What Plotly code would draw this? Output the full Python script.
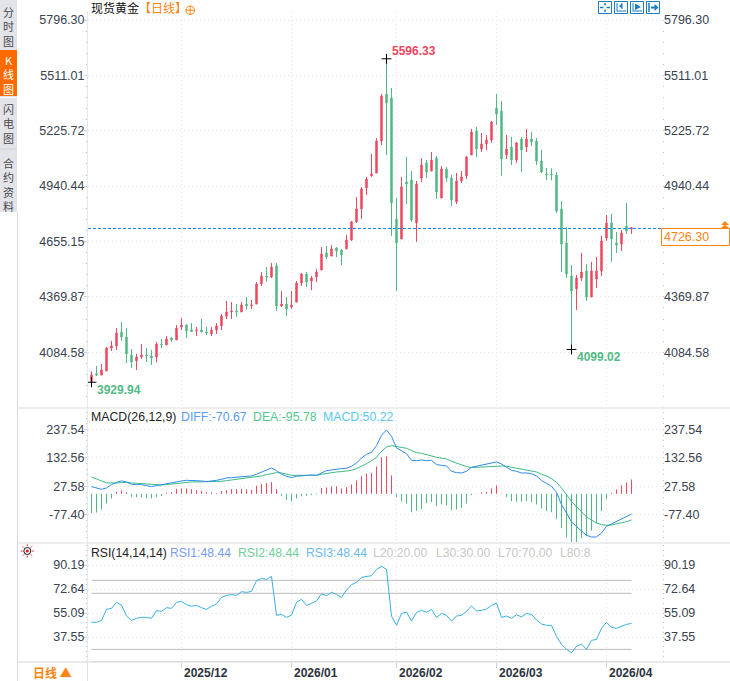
import plotly.graph_objects as go

W = 730
H = 681

OPEN = [3932,3974,3967,3988,4106,4117,4189,4163,4070,4040,
        4060,4070,4065,4060,4127,4122,4158,4148,4215,4225,
        4199,4196,4199,4189,4179,4199,4220,4271,4292,4297,
        4292,4333,4325,4333,4436,4477,4472,4529,4323,4333,
        4318,4343,4441,4488,4452,4472,4508,4596,4580,4622,
        4611,4617,4663,4756,4823,4931,4993,5008,5173,5415,
        5395,4771,4668,4962,4972,4751,4982,5060,5018,5085,
        4879,5029,4982,4859,4967,4993,5101,5225,5132,5158,
        5178,5343,5328,5101,5142,5075,5183,5142,5183,5173,
        5070,5003,5003,4998,4823,4648,4477,4411,4467,4503,
        4369,4462,4503,4673,4751,4648,4642,4735,4720]
HIGH = [3986,4014,4024,4112,4143,4209,4240,4209,4101,4076,
        4127,4106,4096,4137,4153,4168,4163,4225,4261,4230,
        4235,4215,4256,4215,4215,4235,4282,4349,4343,4333,
        4343,4369,4354,4447,4498,4524,4544,4544,4400,4369,
        4400,4452,4493,4498,4477,4514,4627,4632,4637,4627,
        4617,4689,4761,4885,4936,4988,5106,5188,5415,5596.33,
        5446,4879,4988,5091,5018,4967,5085,5075,5116,5096,
        5044,5039,4998,5008,5018,5096,5235,5245,5214,5204,
        5276,5415,5379,5204,5194,5168,5194,5235,5219,5188,
        5127,5034,5032,5013,4864,4730,4534,4483,4596,4539,
        4550,4575,4684,4792,4797,4704,4714,4854,4730]
LOW = [3929.94,3962,3967,3988,4091,4096,4143,4029,4003,3993,
       4050,4034,4019,4034,4106,4122,4137,4148,4199,4158,
       4189,4168,4189,4173,4168,4179,4199,4256,4256,4266,
       4292,4304,4307,4333,4426,4448,4467,4297,4318,4271,
       4307,4343,4426,4421,4405,4447,4508,4565,4580,4575,
       4534,4617,4658,4751,4771,4895,4988,5008,5152,5101,
       4684,4400,4668,4848,4756,4653,4962,4982,5018,4874,
       4879,4962,4838,4848,4957,4977,5101,5091,5116,5127,
       5163,5255,4993,5080,5049,5060,5013,5116,5147,5049,
       5008,4972,4970,4802,4498,4467,4099.02,4302,4452,4349,
       4369,4416,4477,4658,4550,4596,4606,4694,4694]
CLOSE = [3967,3967,3993,4106,4117,4184,4163,4076,4034,4060,
         4070,4065,4055,4127,4124,4153,4148,4209,4225,4194,
         4192,4199,4189,4184,4199,4220,4271,4292,4297,4292,
         4328,4323,4328,4436,4477,4472,4524,4323,4333,4307,
         4328,4441,4488,4447,4467,4498,4591,4575,4617,4606,
         4586,4663,4756,4823,4926,4977,5003,5173,5405,5369,
         4854,4648,4936,4951,4766,4951,5049,5013,5075,4910,
         5029,4982,4869,4967,4988,5091,5219,5132,5158,5178,
         5271,5312,5080,5132,5075,5163,5127,5183,5168,5070,
         5013,4998,4999,4812,4642,4488,4400,4467,4498,4369,
         4503,4503,4658,4751,4668,4637,4699,4709,4726.30]

MACD_DIFF = [26.5,21.6,16.7,21.6,33.9,42.5,47.5,43.8,35.2,33.9,
             33.9,30.2,26.5,30.2,33.9,36.4,40.1,46.2,47.5,49.9,
             49.9,48.7,47.5,45.0,46.2,49.9,53.6,58.6,59.8,61.0,
             63.5,63.5,66.0,72.1,80.7,88.1,95.5,85.7,73.3,64.7,
             59.8,64.7,67.2,68.4,69.6,68.4,77.0,85.7,88.1,91.8,
             93.1,94.3,101.7,114.0,132.5,146.0,153.4,178.1,216.3,236.0,
             212.6,169.4,159.6,148.5,123.9,122.6,125.1,122.6,123.9,107.8,
             105.4,102.9,83.2,78.3,77.0,83.2,98.0,101.7,104.1,110.3,
             112.8,117.7,110.3,99.2,86.9,83.2,77.0,77.0,74.6,65.9,
             48.7,38.8,27.8,5.6,-40.0,-70.8,-104.1,-121.3,-138.6,-153.4,
             -159.5,-159.5,-144.7,-120.1,-111.5,-101.6,-91.7,-81.9,-74.5]
MACD_DEA = [62.3,53.6,47.5,40.1,38.8,40.1,41.3,42.5,40.1,38.8,
            38.8,36.4,35.2,32.7,32.7,33.9,36.4,38.8,41.3,43.8,
            43.8,43.8,43.8,43.8,43.8,45.0,46.2,48.7,51.2,53.6,
            54.9,56.1,58.6,61.0,66.0,70.9,74.6,78.3,77.0,73.3,
            68.4,68.4,68.4,68.4,68.4,68.4,72.1,75.8,78.3,80.7,
            82.0,83.2,86.9,93.1,101.7,111.5,122.6,134.9,157.1,173.2,
            178.1,175.6,173.2,168.2,159.6,152.2,149.7,143.6,139.9,134.9,
            132.5,128.8,120.2,112.8,105.4,100.4,96.8,98.0,99.2,100.4,
            101.7,102.9,102.9,101.7,98.0,95.5,91.8,88.1,84.4,80.7,
            72.1,65.9,56.1,42.5,21.6,-3.0,-27.7,-47.4,-67.1,-85.6,
            -96.7,-107.8,-113.9,-116.4,-115.2,-111.5,-107.8,-102.8,-96.7]
MACD_HIST = [-71.5,-69.0,-57.9,-35.7,-17.2,7.4,12.3,6.2,-11.1,-12.3,
             -13.6,-16.0,-17.2,-12.3,-8.6,3.7,6.2,18.5,19.7,19.7,
             17.2,13.6,11.1,6.2,4.9,2.5,9.9,13.6,17.2,17.2,
             18.5,16.0,14.8,29.6,35.7,39.4,43.1,17.2,-7.4,-22.2,
             -28.3,-17.2,-8.6,-7.4,-4.9,-2.5,20.9,23.4,27.1,27.1,
             19.7,24.6,34.5,49.3,65.3,75.2,76.4,101.0,134.3,138.0,
             67.8,-12.3,-28.3,-35.7,-67.8,-62.8,-56.7,-34.5,-30.8,-45.6,
             -39.4,-43.1,-60.4,-57.9,-51.7,-35.7,-4.9,-1.2,4.9,7.4,
             19.7,30.8,1.2,-12.3,-27.1,-29.6,-29.6,-27.1,-30.8,-39.4,
             -54.2,-64.1,-67.8,-93.6,-125.7,-161.4,-178.6,-178.6,-163.9,-156.5,
             -135.5,-108.4,-64.1,-19.7,3.7,16.0,30.8,41.9,53.0]

RSI = [48.3,48.3,49.7,57.8,58.5,62.9,60.9,52.9,49.7,51.2,
       51.9,51.9,51.2,56.8,56.3,59.0,58.5,62.9,63.6,61.2,
       60.0,60.7,59.0,57.8,60.0,61.7,66.5,68.0,68.5,68.0,
       70.7,70.2,70.9,78.7,80.4,79.7,81.9,53.4,54.1,51.9,
       53.6,62.9,65.1,60.7,62.2,63.9,69.2,67.8,70.2,68.7,
       66.5,71.9,75.8,77.5,81.2,81.7,82.4,87.0,89.2,87.0,
       52.9,46.1,54.8,55.8,49.2,55.6,57.0,55.6,57.8,51.9,
       54.8,53.4,49.2,52.9,53.4,56.3,60.2,56.6,57.0,58.0,
       60.7,62.4,51.9,52.9,51.2,53.9,52.2,54.8,54.1,50.0,
       47.1,46.1,46.1,38.0,32.2,28.5,26.1,30.7,32.4,28.5,
       35.1,35.8,43.9,48.3,44.6,43.9,45.6,46.8,47.5]
RSI_LEVELS = [79.0, 69.5, 28.5, 19.5]

PRICE_TICKS = [5796.30, 5511.01, 5225.72, 4940.44, 4655.15, 4369.87, 4084.58]
# the last price box hides 4655.15 on the right hand side
PRICE_TICKS_RIGHT = [5796.30, 5511.01, 5225.72, 4940.44, 4369.87, 4084.58]
MACD_TICKS = [237.54, 132.56, 27.58, -77.40]
RSI_TICKS = [90.19, 72.64, 55.09, 37.55]
DATE_IDX = [18, 40, 61, 81, 103]
DATE_LABELS = ["2025/12", "2026/01", "2026/02", "2026/03", "2026/04"]
LAST_PRICE = 4726.30
LAST_LINE_LEVEL = 4722
EXTREMES = [(0, 3929.94, "3929.94", "#52bb85"),
            (59, 5596.33, "5596.33", "#f0455f"),
            (96, 4099.02, "4099.02", "#52bb85")]

RED = "#ef4860"
GREEN = "#50b883"
ORANGE = "#ff8410"
TEXT = "#3a4250"
GRID = "#e6e6e6"
AXIS = "#e2eaf1"
LATIN = "Liberation Sans"
CJK = "Noto Sans CJK SC"
idx = list(range(len(CLOSE)))


def px(x):
    return x / W


def py(y):
    return 1 - y / H


fig = go.Figure()

fig.add_trace(go.Candlestick(
    x=idx, open=OPEN, high=HIGH, low=LOW, close=CLOSE,
    increasing=dict(line=dict(color=RED, width=1), fillcolor=RED),
    decreasing=dict(line=dict(color=GREEN, width=1), fillcolor=GREEN),
    xaxis="x", yaxis="y", showlegend=False))

for i, value, _, _ in EXTREMES:
    fig.add_trace(go.Scatter(
        x=[i], y=[value], mode="markers", xaxis="x", yaxis="y", showlegend=False,
        marker=dict(symbol="cross-thin", size=7, line=dict(color="#000000", width=1))))

# histogram as 1px stems, one trace for each colour
for color, keep in [(RED, lambda v: v > 0), (GREEN, lambda v: v <= 0)]:
    stem_x, stem_y = [], []
    for i, v in zip(idx, MACD_HIST):
        if keep(v):
            stem_x += [i, i, None]
            stem_y += [0, v, None]
    fig.add_trace(go.Scatter(x=stem_x, y=stem_y, mode="lines", xaxis="x2", yaxis="y2", showlegend=False,
                             line=dict(color=color, width=1)))
fig.add_trace(go.Scatter(x=idx, y=MACD_DEA, mode="lines", xaxis="x2", yaxis="y2", showlegend=False,
                         line=dict(color="#3dbb80", width=1)))
fig.add_trace(go.Scatter(x=idx, y=MACD_DIFF, mode="lines", xaxis="x2", yaxis="y2", showlegend=False,
                         line=dict(color="#2d8cf0", width=1)))

for level in RSI_LEVELS:
    fig.add_trace(go.Scatter(x=[idx[0], idx[-1]], y=[level, level], mode="lines", xaxis="x3", yaxis="y3",
                             showlegend=False, line=dict(color="#bcbcbc", width=1)))
fig.add_trace(go.Scatter(x=idx, y=RSI, mode="lines", xaxis="x3", yaxis="y3", showlegend=False,
                         line=dict(color="#37b0e4", width=1)))

# empty traces so the right hand price axes get drawn
for axis_name in ["y4", "y5", "y6"]:
    fig.add_trace(go.Scatter(x=[None], y=[None], xaxis="x", yaxis=axis_name, showlegend=False))


def x_axis(anchor, **kw):
    return dict(domain=[px(88), px(662)], range=[-0.7, 114.1], anchor=anchor, tickmode="array",
                tickvals=DATE_IDX, showticklabels=False, showgrid=True, gridcolor=GRID, griddash="1px,3px",
                gridwidth=1, zeroline=False, showline=False, ticks="", **kw)


def y_axis(top, bottom, rng, tick_values, minor_step, **kw):
    return dict(domain=[py(bottom), py(top)], range=rng, tickmode="array", tickvals=tick_values,
                ticktext=["%.2f" % t for t in tick_values], tickfont=dict(family=LATIN, size=12.5, color=TEXT),
                zeroline=False, **kw,
                minor=dict(ticks="outside", ticklen=1, tickcolor="#b8c4ce", tick0=tick_values[0], dtick=minor_step,
                           showgrid=False))


def left_axis(top, bottom, rng, tick_values, minor_step):
    return y_axis(top, bottom, rng, tick_values, minor_step, anchor="x", side="left", showgrid=True, gridcolor=GRID,
                  griddash="1px,3px", showline=True, linecolor=AXIS, linewidth=1, ticks="outside", ticklen=3,
                  tickcolor="#c8d4de", ticklabelstandoff=-3)


def right_axis(top, bottom, rng, tick_values, minor_step, over):
    return y_axis(top, bottom, rng, tick_values, minor_step, overlaying=over, side="right", anchor="free",
                  position=px(662), showgrid=False, showline=False, ticks="", ticklabelstandoff=1)


main_range = [3797.3, 5837.5]
macd_range = [-181.8, 317.1]
rsi_range = [19.28, 106.3]

shapes = []
notes = []


def label(x, y, text, color=TEXT, size=12.5, family=LATIN, anchor="left"):
    # annotations sit about a pixel right of the given x
    shift = 1 if anchor == "left" else 0
    notes.append(dict(x=px(x - shift), y=py(y), xref="paper", yref="paper", text=text, showarrow=False,
                      xanchor=anchor, yanchor="middle", align="center", borderpad=0,
                      font=dict(family=family, size=size, color=color)))


def box(x0, y0, x1, y1, fill=None, line=None, width=1):
    shapes.append(dict(type="rect", xref="paper", yref="paper", layer="above", x0=px(x0), x1=px(x1),
                       y0=py(y0), y1=py(y1), fillcolor=fill or "rgba(0,0,0,0)",
                       line=dict(color=line or "rgba(0,0,0,0)", width=width if line else 0)))


def seg(x0, y0, x1, y1, color, width=1):
    shapes.append(dict(type="line", xref="paper", yref="paper", layer="above", x0=px(x0), x1=px(x1),
                       y0=py(y0), y1=py(y1), line=dict(color=color, width=width)))


def poly(points, color):
    path = "M " + " L ".join("%.4f,%.4f" % (px(a), py(b)) for a, b in points) + " Z"
    shapes.append(dict(type="path", xref="paper", yref="paper", layer="above", path=path, fillcolor=color,
                       line=dict(width=0)))


# sidebar
box(0, 0, 17, 212, fill="#e3e3ea")
box(0, 50, 17, 96, fill="#ff6a00")
seg(0, 97.5, 17, 97.5, "#f5f5f8")
seg(0, 149, 17, 149, "#cfd2da")
seg(17.5, 212, 17.5, 681, "#d9d9df")
label(8.5, 27, "分<br>时<br>图", color="#4a4a4a", size=11, family=CJK, anchor="center")
label(8.5, 75, "K<br>线<br>图", color="#ffffff", size=11, family=CJK, anchor="center")
label(8.5, 124, "闪<br>电<br>图", color="#4a4a4a", size=11, family=CJK, anchor="center")
label(8.5, 184, "合<br>约<br>资<br>料", color="#4a4a4a", size=11, family=CJK, anchor="center")

# panel separators
seg(18, 408, W, 408, "#e8e8e8", 1.5)
seg(18, 543, W, 543, "#e8e8e8", 1.5)
seg(18, 662, W, 662, "#e4e4e4", 1.5)
seg(87.5, 662, 87.5, 681, "#e4e4e4")
label(52, 672.5, "<b>日线 ▲</b>", color=ORANGE, size=12, family=CJK, anchor="center")

# title row
label(91, 8, "现货黄金", color="#111111", size=12, family=CJK)
label(139, 8, "【日线】", color=ORANGE, size=12, family=CJK)
shapes.append(dict(type="circle", xref="paper", yref="paper", layer="above", x0=px(186), x1=px(194.5),
                   y0=py(14.5), y1=py(6), line=dict(color=ORANGE, width=1)))
seg(186, 10.2, 194.5, 10.2, ORANGE)
seg(190.2, 6, 190.2, 14.5, ORANGE)

# toolbar icons
ICON = "#1a7cc4"
for x0 in [598.5, 614.5, 630.5, 646.5]:
    box(x0, 1.5, x0 + 13, 13.5, line=ICON)
seg(600, 7.5, 603.5, 7.5, ICON, 1.5)
seg(606.5, 7.5, 610, 7.5, ICON, 1.5)
seg(605, 3, 605, 5.5, ICON, 1.5)
seg(605, 9.5, 605, 12, ICON, 1.5)
seg(617, 3, 617, 11.5, ICON)
seg(617, 11, 626, 11, ICON)
seg(622, 3, 622, 9, ICON)
poly([(619, 6), (622, 3.5), (622, 8.5)], ICON)
seg(633, 3, 633, 11.5, ICON)
seg(633, 11, 642, 11, ICON)
poly([(635, 3.5), (641, 7), (635, 10)], ICON)
seg(649, 3, 649, 12, ICON, 1.5)
seg(651, 7.5, 655, 7.5, ICON, 2)
poly([(654.5, 4), (658.5, 7.5), (654.5, 11)], ICON)

# last price line and box
shapes.append(dict(type="line", xref="paper", yref="y", layer="above", x0=px(88), x1=px(661),
                   y0=LAST_LINE_LEVEL, y1=LAST_LINE_LEVEL, line=dict(color="#0a84ff", width=1, dash="3px,2px")))
box(661.5, 228.5, 729.5, 245.5, fill="#ffffff", line=ORANGE)
label(664, 237, "%.2f" % LAST_PRICE, color=ORANGE)
poly([(725, 221), (729, 225), (721, 225)], ORANGE)
poly([(725, 224.5), (729, 228), (721, 228)], ORANGE)

# indicator headers
label(90.5, 417, "MACD(26,12,9)", color="#222222", size=12.3)
label(181, 417, "DIFF:-70.67", color="#5b9cf8", size=12.3)
label(253, 417, "DEA:-95.78", color="#55c890", size=12.3)
label(323, 417, "MACD:50.22", color="#5bc8f0", size=12.3)
label(90.5, 553, "RSI(14,14,14)", color="#222222", size=12.2)
label(170, 553, "RSI1:48.44", color="#7a9cf0", size=12.2)
label(238, 553, "RSI2:48.44", color="#6fcf97", size=12.2)
label(306, 553, "RSI3:48.44", color="#6db8ef", size=12.2)
label(373, 553, "L20:20.00", color="#c8c8c8", size=12.2)
label(436, 553, "L30:30.00", color="#c8c8c8", size=12.2)
label(498, 553, "L70:70.00", color="#c8c8c8", size=12.2)
label(560, 553, "L80:8", color="#c8c8c8", size=12.2)

# sun icon next to the RSI panel
for dx, dy in [(0, -6.5), (0, 6.5), (-6.5, 0), (6.5, 0), (-4.6, -4.6), (4.6, -4.6), (-4.6, 4.6), (4.6, 4.6)]:
    seg(27.3 + dx * 0.75, 551 + dy * 0.75, 27.3 + dx, 551 + dy, "#f01010")
shapes.append(dict(type="circle", xref="paper", yref="paper", layer="above", x0=px(23.8), x1=px(30.8),
                   y0=py(554.5), y1=py(547.5), line=dict(color="#111111", width=1)))
shapes.append(dict(type="circle", xref="paper", yref="paper", layer="above", x0=px(25.8), x1=px(28.8),
                   y0=py(552.5), y1=py(549.5), fillcolor="#f01010", line=dict(width=0)))

# extreme value labels sit next to their marks
for i, value, text, color in EXTREMES:
    below = value < 4500
    notes.append(dict(x=i, y=value, xref="x", yref="y", text="<b>%s</b>" % text, showarrow=False, xanchor="left",
                      yanchor="middle", xshift=4, yshift=-8 if below else 8, borderpad=0,
                      font=dict(family=LATIN, size=12, color=color)))

# date labels start at the tick, not centered on it
for i, text in zip(DATE_IDX, DATE_LABELS):
    notes.append(dict(x=i, y=py(673), xref="x3", yref="paper", text="<b>%s</b>" % text, showarrow=False,
                      xanchor="left", yanchor="middle", xshift=1, borderpad=0,
                      font=dict(family=LATIN, size=12, color="#2c3340")))

fig.update_layout(
    width=W, height=H, margin=dict(l=0, r=0, t=0, b=0), autosize=False,
    paper_bgcolor="#ffffff", plot_bgcolor="#ffffff", showlegend=False, hovermode=False,
    boxgap=0.6, shapes=shapes, annotations=notes,
    xaxis=x_axis("y", rangeslider=dict(visible=False)),
    xaxis2=x_axis("y2"),
    xaxis3=dict(x_axis("y3"), ticks="outside", ticklen=5, tickcolor="#c8d4de"),
    yaxis=left_axis(12, 408, main_range, PRICE_TICKS, 57.058),
    yaxis2=left_axis(408, 543, macd_range, MACD_TICKS, 20.996),
    yaxis3=left_axis(543, 662, rsi_range, RSI_TICKS, 3.509),
    yaxis4=right_axis(12, 408, main_range, PRICE_TICKS_RIGHT, 57.058, "y"),
    yaxis5=right_axis(408, 543, macd_range, MACD_TICKS, 20.996, "y2"),
    yaxis6=right_axis(543, 662, rsi_range, RSI_TICKS, 3.509, "y3"),
)

fig.write_html("out.html", config=dict(displayModeBar=False),
               post_script="document.body.style.margin='0';document.body.style.overflow='hidden';")
